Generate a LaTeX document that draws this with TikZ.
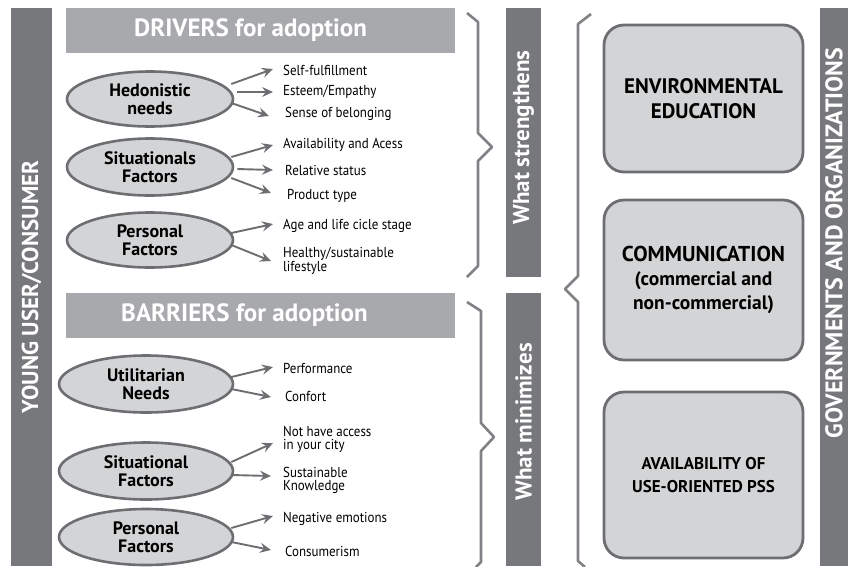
\documentclass[tikz,border=0pt]{standalone}
\usepackage{fontspec}
\setmainfont{PT Sans}
\newfontfamily\itemfont{PT Sans}[FakeStretch=0.9]
\usetikzlibrary{shapes.geometric,arrows.meta,calc}
\definecolor{darkbar}{HTML}{77787B}
\definecolor{headbar}{HTML}{A7A9AC}
\definecolor{lightfill}{HTML}{D3D4D6}
\definecolor{outline}{HTML}{6D6E71}
\definecolor{bracegray}{HTML}{808285}
\begin{document}
\begin{tikzpicture}[x=1pt,y=-1pt,
  vbar/.style={fill=darkbar,text=white,font=\bfseries\fontsize{23}{26}\selectfont,inner sep=0pt,rotate=90},
  hbar/.style={fill=headbar,text=white,font=\bfseries\fontsize{25}{28}\selectfont,inner sep=0pt,minimum width=389pt,minimum height=45pt},
  oval/.style={ellipse,fill=lightfill,draw=outline,line width=2.6pt,font=\bfseries\fontsize{18}{18}\selectfont,align=center,inner sep=0pt},
  item/.style={anchor=west,font=\itemfont\fontsize{14.4}{13}\selectfont,align=left,inner sep=0pt},
  arr/.style={draw=outline,line width=1.9pt,-{Stealth[length=11pt,width=10pt,inset=4pt]}},
  brc/.style={draw=bracegray,line width=2.6pt,line join=round},
  gbox/.style={rounded corners=20pt,fill=lightfill,draw=outline,line width=2.8pt,minimum width=199pt,align=center,font=\bfseries\fontsize{21}{25}\selectfont,inner sep=0pt}
]
\useasboundingbox (0,0) rectangle (848,566);
\clip (0,0) rectangle (848,566);

% side bars
\node[vbar,minimum width=558pt,minimum height=41pt] (young) at (31.5,287) {YOUNG USER/CONSUMER};
\node[vbar,minimum width=269pt,minimum height=35pt,font=\bfseries\fontsize{23}{25}\selectfont] (strong) at (523.5,142.5) {\hspace*{10pt}What strengthens};
\node[vbar,minimum width=273pt,minimum height=35pt,font=\bfseries\fontsize{23}{25}\selectfont] (minim) at (523.5,429.5) {\hspace*{15pt}What minimizes};
\fill[darkbar] (820,8) rectangle (870,566);
\node[rotate=90,text=white,font=\bfseries\fontsize{24}{26}\selectfont,inner sep=0pt] (gov) at (834,243) {GOVERNMENTS AND ORGANIZATIONS};

% headers
\node[hbar] (drv) at (260.5,30.5) {DRIVERS for adoption\hspace*{20pt}};
\node[hbar] (bar) at (260.5,315) {BARRIERS for adoption\hspace*{32pt}};

% driver ovals
\node[oval,minimum width=166pt,minimum height=55pt] (hed) at (150,99) {Hedonistic\\needs};
\node[oval,minimum width=166pt,minimum height=57pt] (sit) at (150,167) {Situationals\\Factors};
\node[oval,minimum width=166pt,minimum height=55pt] (per) at (150,240) {Personal\\Factors};

% barrier ovals
\node[oval,minimum width=174pt,minimum height=57pt] (uti) at (146,384) {Utilitarian\\Needs};
\node[oval,minimum width=174pt,minimum height=57pt] (sit2) at (146,471) {Situational\\Factors};
\node[oval,minimum width=174pt,minimum height=56pt] (per2) at (146,537) {Personal\\Factors};

% driver items
\node[item] (d1) at (283,70) {Self-fulfillment};
\node[item] (d2) at (283,92) {Esteem/Empathy};
\node[item] (d3) at (285,114) {Sense of belonging};
\node[item] (d4) at (283,145) {Availability and Acess};
\node[item] (d5) at (285,170) {Relative status};
\node[item] (d6) at (287,196) {Product type};
\node[item] (d7) at (283,226) {Age and life cicle stage};
\node[item] (d8) at (283,261) {Healthy/sustainable\\lifestyle};

% barrier items
\node[item] (b1) at (283,368) {Performance};
\node[item] (b2) at (285,396) {Confort};
\node[item] (b3) at (283,439) {Not have access\\in your city};
\node[item] (b4) at (283,480) {Sustainable\\Knowledge};
\node[item] (b5) at (283,519) {Negative emotions};
\node[item] (b6) at (285,551) {Consumerism};

% arrows
\draw[arr] ($(hed.east)+(-3,-15)$) -- ($(d1.west)+(-10,-1)$);
\draw[arr] ($(hed.east)+(3,-7)$) -- ($(d2.west)+(-10,0)$);
\draw[arr] ($(hed.east)+(-3,4)$) -- ($(d3.west)+(-16,2)$);
\draw[arr] ($(sit.east)+(-3,-10)$) -- ($(d4.west)+(-10,0)$);
\draw[arr] ($(sit.east)+(3,2)$) -- ($(d5.west)+(-12,0)$);
\draw[arr] ($(sit.east)+(-3,11)$) -- ($(d6.west)+(-16,-3)$);
\draw[arr] ($(per.east)+(-3,-7)$) -- ($(d7.west)+(-10,-2)$);
\draw[arr] ($(per.east)+(-3,5)$) -- ($(d8.west)+(-12,0)$);

\draw[arr] ($(uti.east)+(-3,-7)$) -- ($(b1.west)+(-10,-1)$);
\draw[arr] ($(uti.east)+(-3,5)$) -- ($(b2.west)+(-14,1)$);
\draw[arr] ($(sit2.east)+(-3,-9)$) -- ($(b3.west)+(-10,4)$);
\draw[arr] ($(sit2.east)+(-3,4)$) -- ($(b4.west)+(-12,-4)$);
\draw[arr] ($(per2.east)+(-3,-9)$) -- ($(b5.west)+(-10,-3)$);
\draw[arr] ($(per2.east)+(-3,5)$) -- ($(b6.west)+(-14,-1)$);

% braces
\coordinate (s1) at (467,13);
\coordinate (s2) at (467,277);
\draw[brc] (s1) -- (478,22) -- (478,133) -- (492,147) -- (478,161) -- (478,266) -- (s2);
\coordinate (m1) at (467,302);
\coordinate (m2) at (476,567);
\draw[brc] (m1) -- (481,311) -- (481,423) -- (494,437) -- (481,451) -- (481,562) -- (m2);
\coordinate (r1) at (591,14);
\coordinate (r2) at (585,567);
\draw[brc] (r1) -- (578,24) -- (578,276) -- (565,289) -- (578,302) -- (578,561) -- (r2);

% government boxes
\node[gbox,minimum height=147pt] (env) at (703.5,98.5) {ENVIRONMENTAL\\EDUCATION};
\node[gbox,minimum height=160pt,font=\bfseries\fontsize{21.5}{24}\selectfont] (com) at (703.5,280) {COMMUNICATION\\{\fontsize{19.5}{24}\selectfont(commercial and}\\{\fontsize{19.5}{24}\selectfont non-commercial)}};
\node[gbox,minimum height=166pt,font=\bfseries\fontsize{17}{23}\selectfont] (pss) at (703.5,475) {AVAILABILITY OF\\USE-ORIENTED PSS};
\end{tikzpicture}
\end{document}
